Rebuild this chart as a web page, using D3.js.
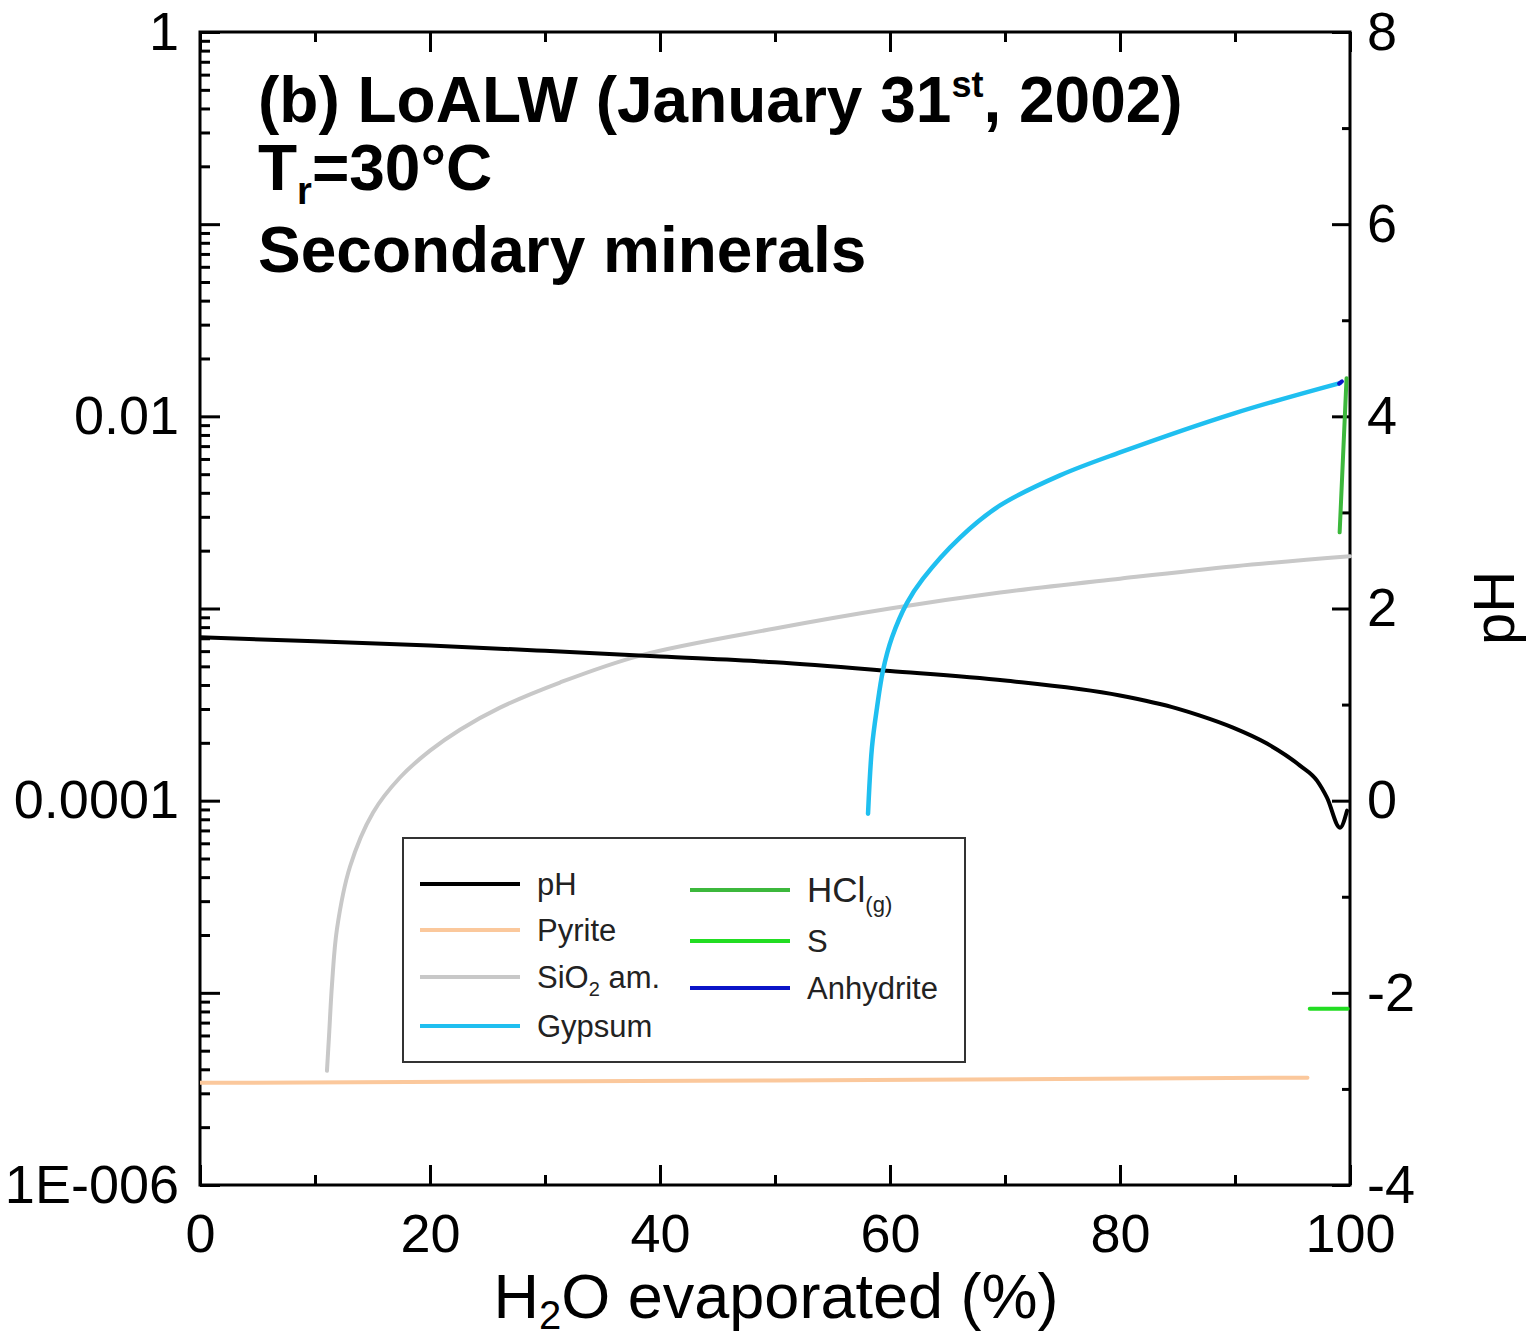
<!DOCTYPE html>
<html>
<head>
<meta charset="utf-8">
<script src="https://cdn.jsdelivr.net/npm/d3@7"></script>
<style>
  html, body { margin: 0; padding: 0; background: #fff; }
  svg { display: block; font-family: "Liberation Sans", Arial, sans-serif; }
</style>
</head>
<body>
<svg id="chart" width="1531" height="1336"></svg>
<script>
// ---------------- data ----------------
// x = H2O evaporated (%), left-axis values in mol (log scale), pH on the right axis
const phX      = [0, 10, 20, 30, 40, 50, 60, 70, 80, 85, 86.96, 89.83, 92.78, 95.65, 97.13, 98.0, 99.13, 99.74];
const phY      = [1.70, 1.66, 1.615, 1.56, 1.50, 1.44, 1.35, 1.25, 1.094, 0.958, 0.885, 0.76, 0.594, 0.365, 0.208, 0.031, -0.281, -0.104];

const pyriteX  = [0, 50, 96.3];
const pyriteY  = [3.4e-6, 3.5e-6, 3.62e-6];

const sio2X    = [11.04, 11.22, 11.48, 11.91, 13.04, 15.04, 17.39, 20, 22.61, 26.09, 31.30, 38.26, 50, 60, 69.57, 80, 90, 100];
const sio2Y    = [3.93e-6, 5.97e-6, 1.11e-5, 2.15e-5, 4.53e-5, 8.66e-5, 1.32e-4, 1.82e-4, 2.34e-4, 3.05e-4, 4.12e-4, 5.69e-4, 7.87e-4, 1.0e-3, 1.21e-3, 1.43e-3, 1.66e-3, 1.87e-3];

const gypsumX  = [58.09, 58.43, 58.87, 59.39, 60.17, 61.48, 62.87, 66.09, 69.57, 74.78, 80, 90, 99.13];
const gypsumY  = [8.55e-5, 1.89e-4, 3.05e-4, 4.76e-4, 7.06e-4, 1.07e-3, 1.43e-3, 2.34e-3, 3.44e-3, 4.93e-3, 6.49e-3, 1.04e-2, 1.49e-2];

const hclX     = [99.1, 99.7];
const hclY     = [2.49e-3, 1.58e-2];

const sX       = [96.5, 99.8];
const sY       = [8.26e-6, 8.26e-6];

const anhX     = [99.05, 99.3];
const anhY     = [1.48e-2, 1.52e-2];

const xTicks      = [0, 20, 40, 60, 80, 100];
const xMinorTicks = [10, 30, 50, 70, 90];
const leftMajor   = [1, 0.1, 0.01, 0.001, 0.0001, 0.00001, 0.000001];
const leftLabels  = {"1": "1", "0.01": "0.01", "0.0001": "0.0001", "0.000001": "1E-006"};
const rightTicks  = [-4, -2, 0, 2, 4, 6, 8];
const rightMinor  = [-3, -1, 1, 3, 5, 7];

const legendCol1 = [
  {name: "pH", color: "#000000"},
  {name: "Pyrite", color: "#fbc89c"},
  {name: "SiO2 am.", color: "#c8c8c8"},
  {name: "Gypsum", color: "#1fbff0"}
];
const legendCol2 = [
  {name: "HCl(g)", color: "#3cb83c"},
  {name: "S", color: "#22dd22"},
  {name: "Anhydrite", color: "#0a14c8"}
];

// ---------------- layout ----------------
const L = 200, R = 1350, T = 32, B = 1185;
const svg = d3.select("#chart");

const x  = d3.scaleLinear().domain([0, 100]).range([L, R]);
const yL = d3.scaleLog().domain([1e-6, 1]).range([B, T]);
const yR = d3.scaleLinear().domain([-4, 8]).range([B, T]);

// minor ticks for left log axis
const leftMinor = [];
for (let e = -6; e < 0; e++) for (let m = 2; m <= 9; m++) leftMinor.push(m * Math.pow(10, e));

const tickFont = 54;

function styleAxis(g) {
  g.select(".domain").remove();
  g.selectAll("line").attr("stroke", "#000").attr("stroke-width", 3);
  g.selectAll("text").attr("font-size", tickFont).attr("fill", "#000")
    .attr("font-family", "'Liberation Sans', Arial, sans-serif");
}

// bottom axis
svg.append("g").attr("transform", `translate(0,${B})`)
  .call(d3.axisBottom(x).tickValues(xTicks).tickSize(-20).tickPadding(29).tickFormat(d => String(d)))
  .call(styleAxis);
svg.append("g").attr("transform", `translate(0,${B})`)
  .call(d3.axisBottom(x).tickValues(xMinorTicks).tickSize(-10).tickFormat(""))
  .call(styleAxis);
// top axis (mirror ticks)
svg.append("g").attr("transform", `translate(0,${T})`)
  .call(d3.axisTop(x).tickValues(xTicks).tickSize(-20).tickFormat(""))
  .call(styleAxis);
svg.append("g").attr("transform", `translate(0,${T})`)
  .call(d3.axisTop(x).tickValues(xMinorTicks).tickSize(-10).tickFormat(""))
  .call(styleAxis);

// left axis
svg.append("g").attr("transform", `translate(${L},0)`)
  .call(d3.axisLeft(yL).tickValues(leftMajor).tickSize(-20).tickPadding(21)
    .tickFormat(d => leftLabels[String(d)] || ""))
  .call(styleAxis);
svg.append("g").attr("transform", `translate(${L},0)`)
  .call(d3.axisLeft(yL).tickValues(leftMinor).tickSize(-10).tickFormat(""))
  .call(styleAxis);

// right axis
svg.append("g").attr("transform", `translate(${R},0)`)
  .call(d3.axisRight(yR).tickValues(rightTicks).tickSize(-18).tickPadding(17).tickFormat(d => String(d)))
  .call(styleAxis);
svg.append("g").attr("transform", `translate(${R},0)`)
  .call(d3.axisRight(yR).tickValues(rightMinor).tickSize(-8).tickFormat(""))
  .call(styleAxis);

// frame
svg.append("rect").attr("x", L).attr("y", T).attr("width", R - L).attr("height", B - T)
  .attr("fill", "none").attr("stroke", "#000").attr("stroke-width", 3);

// ---------------- data lines ----------------
svg.append("defs").append("clipPath").attr("id", "plotclip")
  .append("rect").attr("x", L).attr("y", T - 5).attr("width", R - L + 2).attr("height", B - T + 5);

const plot = svg.append("g").attr("clip-path", "url(#plotclip)");

function drawSeries(xs, ys, yScale, color, curve, width) {
  const pts = xs.map((v, i) => [v, ys[i]]);
  const line = d3.line().x(d => x(d[0])).y(d => yScale(d[1])).curve(curve);
  plot.append("path").attr("d", line(pts)).attr("fill", "none")
    .attr("stroke", color).attr("stroke-width", width || 4)
    .attr("stroke-linejoin", "round").attr("stroke-linecap", "round");
}

drawSeries(pyriteX, pyriteY, yL, legendCol1[1].color, d3.curveLinear, 4);
drawSeries(sio2X, sio2Y, yL, legendCol1[2].color, d3.curveCatmullRom.alpha(0.5), 4);
drawSeries(phX, phY, yR, legendCol1[0].color, d3.curveMonotoneX, 4);
drawSeries(gypsumX, gypsumY, yL, legendCol1[3].color, d3.curveCatmullRom.alpha(0.5), 4.5);
drawSeries(sX, sY, yL, legendCol2[1].color, d3.curveLinear, 4);
drawSeries(hclX, hclY, yL, legendCol2[0].color, d3.curveLinear, 4);
drawSeries(anhX, anhY, yL, legendCol2[2].color, d3.curveLinear, 4);

// ---------------- titles ----------------
const bold = svg.append("g").attr("font-weight", "bold").attr("fill", "#000").attr("font-size", 64);
const t1 = bold.append("text").attr("x", 258).attr("y", 122);
t1.append("tspan").text("(b) LoALW (January 31");
t1.append("tspan").attr("font-size", 36).attr("dy", -25).text("st");
t1.append("tspan").attr("dy", 25).text(", 2002)");

const t2 = bold.append("text").attr("x", 258).attr("y", 190);
t2.append("tspan").text("T");
t2.append("tspan").attr("font-size", 38).attr("dy", 14).text("r");
t2.append("tspan").attr("dy", -14).text("=30°C");

bold.append("text").attr("x", 258).attr("y", 272).text("Secondary minerals");

// x-axis title
const xt = svg.append("text").attr("x", 776).attr("y", 1318).attr("text-anchor", "middle")
  .attr("font-size", 63).attr("fill", "#000");
xt.append("tspan").text("H");
xt.append("tspan").attr("font-size", 40).attr("dy", 11).text("2");
xt.append("tspan").attr("dy", -11).text("O evaporated (%)");

// right axis title
svg.append("text").attr("transform", "translate(1514,608) rotate(-90)")
  .attr("text-anchor", "middle").attr("font-size", 58).attr("fill", "#000").text("pH");

// ---------------- legend ----------------
const lg = svg.append("g");
lg.append("rect").attr("x", 403).attr("y", 838).attr("width", 562).attr("height", 224)
  .attr("fill", "#fff").attr("stroke", "#333").attr("stroke-width", 2);

const col1Y = [884, 930, 977, 1026];
const col2Y = [890, 941, 988];
const legFont = 31;

function legendText(g, name, xx, yy, size) {
  const t = g.append("text").attr("x", xx).attr("y", yy).attr("dy", "0.35em")
    .attr("font-size", size).attr("fill", "#222");
  if (name === "SiO2 am.") {
    t.append("tspan").text("SiO");
    t.append("tspan").attr("font-size", 20).attr("dy", 8).text("2");
    t.append("tspan").attr("dy", -8).text(" am.");
  } else if (name === "HCl(g)") {
    t.append("tspan").text("HCl");
    t.append("tspan").attr("font-size", 22).attr("dy", 10).text("(g)");
  } else {
    t.text(name);
  }
}

legendCol1.forEach((d, i) => {
  lg.append("line").attr("x1", 420).attr("x2", 520).attr("y1", col1Y[i]).attr("y2", col1Y[i])
    .attr("stroke", d.color).attr("stroke-width", 4);
  legendText(lg, d.name, 537, col1Y[i], legFont);
});
legendCol2.forEach((d, i) => {
  lg.append("line").attr("x1", 690).attr("x2", 790).attr("y1", col2Y[i]).attr("y2", col2Y[i])
    .attr("stroke", d.color).attr("stroke-width", 4);
  legendText(lg, d.name, 807, col2Y[i], i === 0 ? 35 : legFont);
});
</script>
</body>
</html>
